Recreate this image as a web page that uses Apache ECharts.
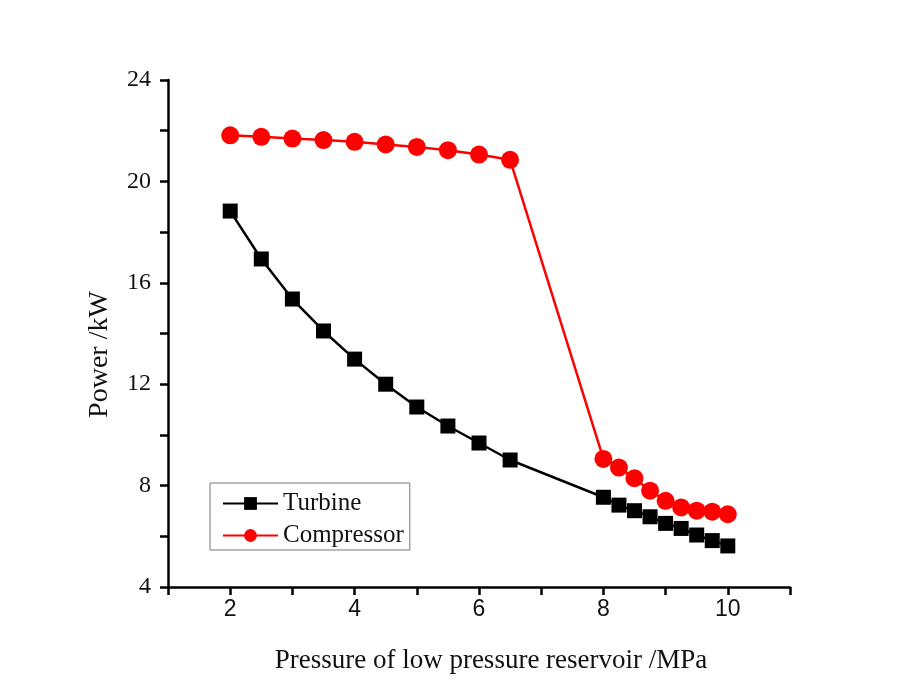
<!DOCTYPE html>
<html><head><meta charset="utf-8">
<script src="https://cdn.jsdelivr.net/npm/echarts@6/dist/echarts.min.js"></script>
<style>html,body{margin:0;padding:0;background:#fff}#c{width:904px;height:698px}</style>
</head><body><div id="c"></div>
<script>
const pressure = [2, 2.5, 3, 3.5, 4, 4.5, 5, 5.5, 6, 6.5, 8, 8.25, 8.5, 8.75, 9, 9.25, 9.5, 9.75, 10];
const turbine = [18.83, 16.94, 15.36, 14.1, 12.99, 12.0, 11.1, 10.35, 9.68, 9.01, 7.54, 7.23, 7.01, 6.77, 6.51, 6.31, 6.05, 5.83, 5.62];
const compressor = [21.82, 21.76, 21.69, 21.63, 21.56, 21.46, 21.36, 21.23, 21.06, 20.85, 9.05, 8.71, 8.29, 7.8, 7.4, 7.14, 7.01, 6.97, 6.87];
const xLabels = [2, 4, 6, 8, 10];
const yLabels = [4, 8, 12, 16, 20, 24];

const serif = '"Liberation Serif", "Times New Roman", serif';
const sans = '"Liberation Sans", Arial, sans-serif';
const chart = echarts.init(document.getElementById('c'));
chart.setOption({
  backgroundColor: '#fff',
  animation: false,
  grid: {left: 168, top: 80, right: 114, bottom: 111},
  legend: {
    left: 210, top: 483,
    orient: 'vertical', itemGap: 7, padding: [8, 6, 2, 12],
    borderColor: '#777', borderWidth: 1,
    itemWidth: 55, itemHeight: 16,
    textStyle: {fontFamily: serif, fontSize: 25, color: '#111'},
    data: ['Turbine', 'Compressor']
  },
  xAxis: {
    type: 'value', min: 1, max: 11, interval: 1,
    name: 'Pressure of low pressure reservoir /MPa', nameLocation: 'middle', nameGap: 60,
    nameTextStyle: {fontFamily: serif, fontSize: 27, color: '#111', padding: [0, 0, 0, 24]},
    axisLine: {show: true, onZero: false, lineStyle: {color: '#000', width: 2.5}},
    axisTick: {show: true, inside: false, length: 8, lineStyle: {color: '#000', width: 2.5}},
    axisLabel: {fontFamily: sans, fontSize: 23, color: '#111', margin: 11,
      formatter: v => xLabels.includes(v) ? String(v) : ''},
    splitLine: {show: false}
  },
  yAxis: {
    type: 'value', min: 4, max: 24, interval: 2,
    name: 'Power /kW', nameLocation: 'middle', nameGap: 54,
    nameTextStyle: {fontFamily: serif, fontSize: 28, color: '#111', padding: [0, 42, 0, 0]},
    axisLine: {show: true, onZero: false, lineStyle: {color: '#000', width: 2.5}},
    axisTick: {show: true, inside: false, length: 8, lineStyle: {color: '#000', width: 2.5}},
    axisLabel: {fontFamily: serif, fontSize: 24, color: '#111', margin: 17,
      formatter: v => yLabels.includes(v) ? String(v) : ''},
    splitLine: {show: false}
  },
  series: [
    {
      name: 'Turbine', type: 'line',
      data: pressure.map((x, i) => [x, turbine[i]]),
      symbol: 'rect', symbolSize: 15,
      itemStyle: {color: '#000'},
      lineStyle: {color: '#000', width: 2.5}
    },
    {
      name: 'Compressor', type: 'line',
      data: pressure.map((x, i) => [x, compressor[i]]),
      symbol: 'circle', symbolSize: 18,
      itemStyle: {color: '#ff0000'},
      lineStyle: {color: '#ff0000', width: 2.5}
    }
  ]
});
</script></body></html>
